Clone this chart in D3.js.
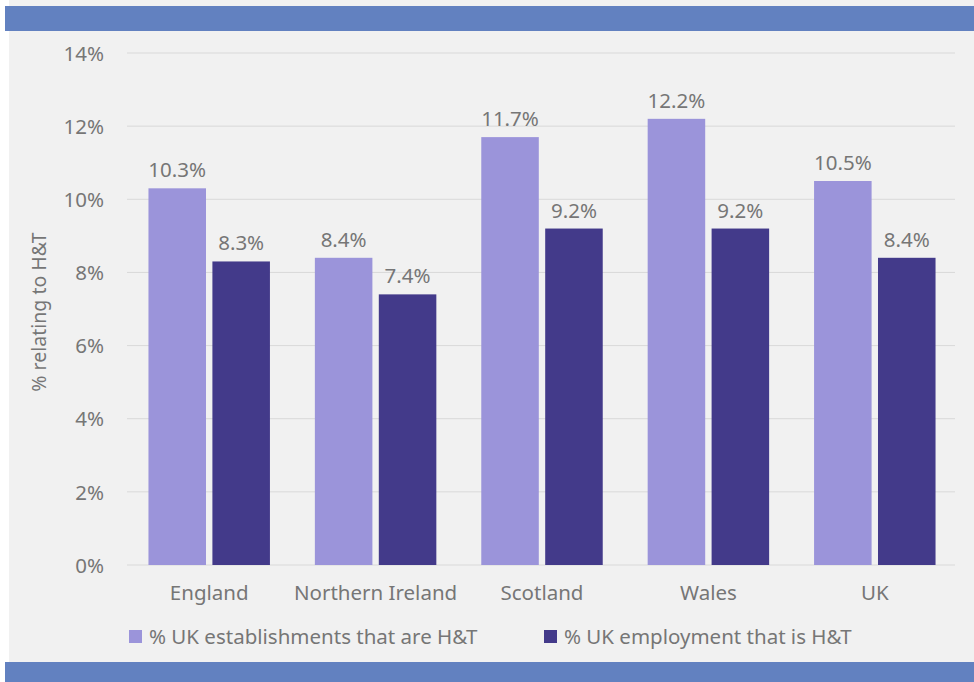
<!DOCTYPE html>
<html><head><meta charset="utf-8">
<script src="https://cdn.jsdelivr.net/npm/d3@7"></script>
<style>body{margin:0;background:#fff}svg{display:block}</style>
</head><body>
<svg id="c" width="974" height="682"></svg>
<script>
const categories = ["England","Northern Ireland","Scotland","Wales","UK"];
const seriesNames = ["% UK establishments that are H&T","% UK employment that is H&T"];
const establishments = [10.3, 8.4, 11.7, 12.2, 10.5];
const employment = [8.3, 7.4, 9.2, 9.2, 8.4];
const yTicks = [0,2,4,6,8,10,12,14];

const colors = ["#9b94da","#433a8a"];
const font = "'Noto Sans', sans-serif";
const fs = 20.5;
const textCol = "#767676";
const svg = d3.select("#c");
svg.append("rect").attr("x",9).attr("y",0).attr("width",965).attr("height",682).attr("fill","#f1f1f1");
svg.append("rect").attr("x",5).attr("y",6).attr("width",969).attr("height",25).attr("fill","#6281c0");
svg.append("rect").attr("x",5).attr("y",662).attr("width",969).attr("height",20).attr("fill","#6281c0");

const x = d3.scaleBand().domain(categories).range([126,958]).paddingInner(0.27).paddingOuter(0.135);
const x1 = d3.scaleBand().domain([0,1]).range([0,x.bandwidth()]).paddingInner(0.1);
const y = d3.scaleLinear().domain([0,14]).range([565,53]);

const g = svg.append("g");
g.selectAll("line.grid").data(yTicks).join("line")
  .attr("x1",127).attr("x2",955).attr("y1",d=>y(d)).attr("y2",d=>y(d))
  .attr("stroke","#d9d9d9").attr("stroke-width",1);

const yAxis = d3.axisLeft(y).tickValues(yTicks).tickFormat(d=>d+"%").tickSize(0).tickPadding(0);
const ya = svg.append("g").attr("transform","translate(104,0)").call(yAxis);
ya.select(".domain").remove();
ya.selectAll("text").attr("font-family",font).attr("font-size",fs).attr("fill",textCol).attr("dy","0.35em");

const xAxis = d3.axisBottom(x).tickSize(0).tickPadding(0);
const xa = svg.append("g").attr("transform","translate(0,585)").call(xAxis);
xa.select(".domain").remove();
xa.selectAll("text").attr("font-family",font).attr("font-size",fs).attr("fill",textCol).attr("dy","0.71em");

const data = [establishments, employment];
data.forEach((vals,si)=>{
  const gg = svg.append("g");
  gg.selectAll("rect").data(categories).join("rect")
    .attr("x",(c)=>x(c)+x1(si)).attr("width",x1.bandwidth())
    .attr("y",(c,i)=>y(vals[i])).attr("height",(c,i)=>y(0)-y(vals[i]))
    .attr("fill",colors[si]);
  gg.selectAll("text").data(categories).join("text")
    .attr("x",(c)=>x(c)+x1(si)+x1.bandwidth()/2)
    .attr("y",(c,i)=>y(vals[i])-11)
    .attr("text-anchor","middle").attr("font-family",font).attr("font-size",fs).attr("fill",textCol)
    .text((c,i)=>vals[i].toFixed(1)+"%");
});

svg.append("text").attr("transform","translate(46,312) rotate(-90)")
  .attr("text-anchor","middle").attr("font-family",font).attr("font-size",19.5).attr("fill",textCol)
  .text("% relating to H&T");

const legX = [129,544];
seriesNames.forEach((n,i)=>{
  svg.append("rect").attr("x",legX[i]).attr("y",630).attr("width",13).attr("height",13).attr("fill",colors[i]);
  svg.append("text").attr("x",legX[i]+20).attr("y",644).attr("font-family",font).attr("font-size",fs).attr("fill",textCol).text(n);
});
</script>
</body></html>
